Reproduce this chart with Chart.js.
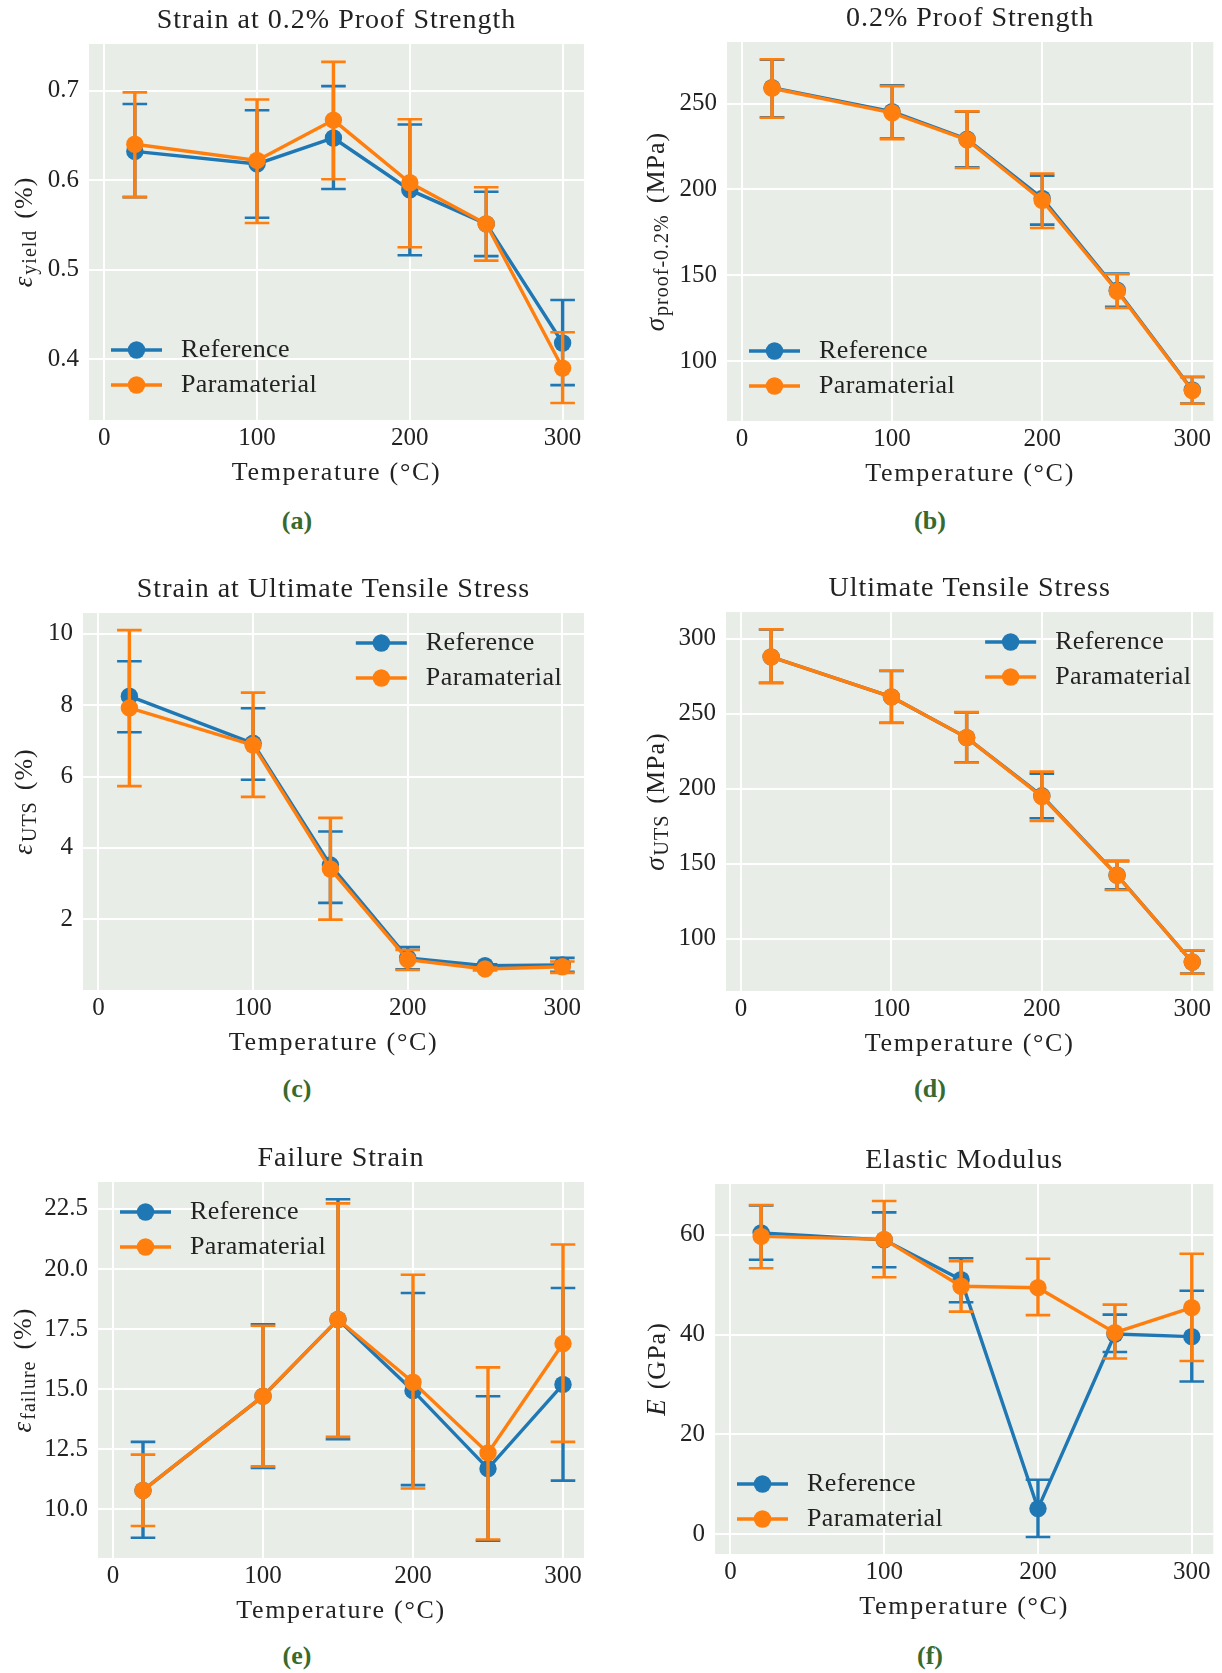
<!DOCTYPE html>
<html>
<head>
  <meta charset="UTF-8" />
  <title>Reference vs Paramaterial</title>
  <script src="https://cdn.jsdelivr.net/npm/chart.js"></script>
  <style>
    body { margin: 0; background: #fff; }
    #page { position: relative; width: 1222px; height: 1673px; overflow: hidden; }
    canvas { position: absolute; }
    .cap {
      position: absolute; width: 80px; margin-left: -40px; text-align: center;
      font: bold 26px "Liberation Serif", serif; color: #386a30; line-height: 28px;
    }
  </style>
</head>
<body>
<div id="page">
  <canvas id="chartA" width="605" height="500" style="left:0;top:0"></canvas>
  <canvas id="chartB" width="611" height="500" style="left:611px;top:0"></canvas>
  <canvas id="chartC" width="605" height="510" style="left:0;top:560px"></canvas>
  <canvas id="chartD" width="611" height="510" style="left:611px;top:560px"></canvas>
  <canvas id="chartE" width="605" height="510" style="left:0;top:1130px"></canvas>
  <canvas id="chartF" width="611" height="510" style="left:611px;top:1130px"></canvas>

  <div class="cap" style="left:297px;top:507px">(a)</div>
  <div class="cap" style="left:930px;top:507px">(b)</div>
  <div class="cap" style="left:297px;top:1075px">(c)</div>
  <div class="cap" style="left:930px;top:1075px">(d)</div>
  <div class="cap" style="left:297px;top:1642px">(e)</div>
  <div class="cap" style="left:930px;top:1642px">(f)</div>
</div>

<script>
// shared x values
const temps = [20, 100, 150, 200, 250, 300];
const tempTicks = [0, 100, 200, 300];
const seriesNames = ['Reference', 'Paramaterial'];

// (a) strain at 0.2% proof strength (%)
const yieldRef   = [0.632, 0.618, 0.647, 0.589, 0.551, 0.418];
const yieldRefLo = [0.581, 0.558, 0.590, 0.516, 0.515, 0.371];
const yieldRefHi = [0.685, 0.678, 0.705, 0.662, 0.587, 0.466];
const yieldPar   = [0.640, 0.622, 0.667, 0.597, 0.551, 0.390];
const yieldParLo = [0.581, 0.552, 0.601, 0.525, 0.510, 0.351];
const yieldParHi = [0.698, 0.690, 0.732, 0.668, 0.592, 0.430];
const yieldTicks = [0.4, 0.5, 0.6, 0.7];

// (b) 0.2% proof strength (MPa)
const proofRef   = [259.2, 245.2, 229.2, 194.8, 141.3, 83.3];
const proofRefLo = [242.0, 229.6, 212.8, 179.5, 131.6, 75.4];
const proofRefHi = [275.5, 260.6, 245.2, 208.0, 151.0, 90.8];
const proofPar   = [258.9, 244.6, 228.8, 193.6, 140.7, 82.9];
const proofParLo = [241.7, 229.2, 212.5, 177.5, 131.0, 75.2];
const proofParHi = [275.8, 260.1, 245.4, 209.3, 150.6, 90.9];
const proofTicks = [100, 150, 200, 250];

// (c) strain at UTS (%)
const utsStrainRef   = [8.25, 6.93, 3.52, 0.92, 0.70, 0.72];
const utsStrainRefLo = [7.24, 5.91, 2.46, 0.60, 0.66, 0.53];
const utsStrainRefHi = [9.23, 7.91, 4.46, 1.22, 0.74, 0.92];
const utsStrainPar   = [7.92, 6.88, 3.41, 0.87, 0.61, 0.67];
const utsStrainParLo = [5.73, 5.43, 1.99, 0.58, 0.57, 0.50];
const utsStrainParHi = [10.10, 8.35, 4.84, 1.14, 0.65, 0.82];
const utsStrainTicks = [2, 4, 6, 8, 10];

// (d) ultimate tensile stress (MPa)
const utsRef   = [287.8, 261.1, 234.0, 195.2, 142.3, 84.4];
const utsRefLo = [270.5, 243.9, 217.6, 180.2, 132.8, 76.8];
const utsRefHi = [306.0, 278.4, 250.8, 209.9, 151.8, 92.0];
const utsPar   = [287.8, 261.1, 234.0, 194.7, 142.1, 84.4];
const utsParLo = [270.3, 243.7, 217.4, 178.4, 132.4, 76.6];
const utsParHi = [306.2, 278.6, 251.0, 211.3, 151.5, 92.2];
const utsTicks = [100, 150, 200, 250, 300];

// (e) failure strain (%)
const failRef   = [10.79, 14.71, 17.90, 14.94, 11.70, 15.20];
const failRefLo = [8.82, 11.73, 12.92, 11.01, 8.70, 11.20];
const failRefHi = [12.81, 17.70, 22.90, 19.00, 14.71, 19.21];
const failPar   = [10.79, 14.71, 17.90, 15.29, 12.35, 16.90];
const failParLo = [9.31, 11.79, 13.02, 10.87, 8.75, 12.81];
const failParHi = [12.28, 17.64, 22.73, 19.76, 15.91, 21.02];
const failTicks = [10, 12.5, 15, 17.5, 20, 22.5];

// (f) elastic modulus (GPa)
const modRef   = [60.4, 59.0, 51.0, 5.1, 40.1, 39.6];
const modRefLo = [55.0, 53.5, 46.5, -0.6, 36.5, 30.6];
const modRefHi = [65.9, 64.5, 55.3, 10.9, 44.0, 48.8];
const modPar   = [59.7, 59.1, 49.7, 49.4, 40.4, 45.4];
const modParLo = [53.3, 51.5, 44.6, 43.9, 35.2, 34.7];
const modParHi = [66.0, 66.8, 54.7, 55.2, 46.0, 56.2];
const modTicks = [0, 20, 40, 60];

const BLUE = '#1f77b4';
const ORANGE = '#ff7f0e';
const PLOT_BG = '#e8ede7';
const INK = '#222222';
const SERIF = '"Liberation Serif", "DejaVu Serif", serif';
const CAP = 12.3;

// background, error bars, titles and the in-axes legend
const decor = {
  id: 'decor',
  beforeDraw(chart) {
    const { ctx, chartArea: a } = chart;
    ctx.save();
    ctx.fillStyle = PLOT_BG;
    ctx.fillRect(a.left, a.top, a.right - a.left, a.bottom - a.top);
    ctx.restore();
  },
  beforeDatasetDraw(chart, args) {
    const ds = chart.data.datasets[args.index];
    const y = chart.scales.y;
    const ctx = chart.ctx;
    ctx.save();
    ctx.strokeStyle = ds.borderColor;
    args.meta.data.forEach((pt, i) => {
      const hi = y.getPixelForValue(ds.errHi[i]);
      const lo = y.getPixelForValue(ds.errLo[i]);
      ctx.lineWidth = 3.4;
      ctx.beginPath();
      ctx.moveTo(pt.x, hi); ctx.lineTo(pt.x, lo);
      ctx.stroke();
      ctx.lineWidth = 2.6;
      ctx.beginPath();
      ctx.moveTo(pt.x - CAP, hi); ctx.lineTo(pt.x + CAP, hi);
      ctx.moveTo(pt.x - CAP, lo); ctx.lineTo(pt.x + CAP, lo);
      ctx.stroke();
    });
    ctx.restore();
  },
  afterDraw(chart, args, opts) {
    const { ctx, chartArea: a } = chart;
    const cx = (a.left + a.right) / 2;
    ctx.save();
    ctx.fillStyle = INK;
    ctx.textAlign = 'center';
    ctx.textBaseline = 'middle';
    ctx.letterSpacing = '1px';
    ctx.font = '28px ' + SERIF;
    ctx.fillText(opts.title, cx, a.top - 23);
    ctx.letterSpacing = '1.7px';
    ctx.font = '26px ' + SERIF;
    ctx.fillText('Temperature (°C)', cx, a.bottom + 53);

    // rotated y label with subscript
    ctx.letterSpacing = '1px';
    const parts = [
      { t: opts.sym, f: 'italic 27px ' + SERIF, dy: 0, gap: 1 },
      { t: opts.sub, f: '20px ' + SERIF, dy: 6, gap: opts.sub ? 11 : 8 },
      { t: opts.unit, f: '26px ' + SERIF, dy: 0, gap: 0 }
    ];
    let total = 0;
    parts.forEach(p => { ctx.font = p.f; p.w = ctx.measureText(p.t).width + p.gap; total += p.w; });
    ctx.translate(a.left + opts.yLabelAt, (a.top + a.bottom) / 2);
    ctx.rotate(-Math.PI / 2);
    ctx.textAlign = 'left';
    let x = -total / 2;
    parts.forEach(p => { ctx.font = p.f; ctx.fillText(p.t, x, p.dy); x += p.w; });
    ctx.restore();

    // legend
    ctx.save();
    ctx.font = '26px ' + SERIF;
    ctx.letterSpacing = '0.4px';
    ctx.textBaseline = 'middle';
    const dsets = chart.data.datasets;
    const textW = Math.max(...dsets.map(d => ctx.measureText(d.label).width));
    let x0, rows;
    if (opts.legend === 'll') { x0 = a.left + 22; rows = [a.bottom - 70, a.bottom - 35]; }
    else if (opts.legend === 'ul') { x0 = a.left + 22; rows = [a.top + 30, a.top + 65]; }
    else { x0 = a.right - 22 - textW - 70; rows = [a.top + 30, a.top + 65]; }
    dsets.forEach((d, i) => {
      const yy = rows[i];
      ctx.strokeStyle = d.borderColor;
      ctx.lineWidth = 3.4;
      ctx.beginPath(); ctx.moveTo(x0, yy); ctx.lineTo(x0 + 51, yy); ctx.stroke();
      ctx.fillStyle = d.borderColor;
      ctx.beginPath(); ctx.arc(x0 + 25.5, yy, 8.7, 0, Math.PI * 2); ctx.fill();
      ctx.fillStyle = INK;
      ctx.fillText(d.label, x0 + 70, yy);
    });
    ctx.restore();
  }
};

function series(label, color, data, lo, hi, order) {
  return {
    label, data, errLo: lo, errHi: hi, order,
    borderColor: color, backgroundColor: color,
    borderWidth: 3.4, tension: 0,
    pointRadius: 8.7, pointBorderWidth: 0, pointBackgroundColor: color
  };
}

function makePanel(id, p) {
  const tickFont = { family: SERIF, size: 25 };
  new Chart(document.getElementById(id), {
    type: 'line',
    data: {
      labels: temps,
      datasets: [
        series(seriesNames[0], BLUE, p.ref, p.refLo, p.refHi, 2),
        series(seriesNames[1], ORANGE, p.par, p.parLo, p.parHi, 1)
      ]
    },
    options: {
      responsive: false,
      animation: false,
      events: [],
      layout: { padding: { left: 0, top: p.top, right: p.right, bottom: 0 } },
      scales: {
        x: {
          type: 'linear', min: -10, max: 314,
          afterBuildTicks: s => { s.ticks = tempTicks.map(v => ({ value: v })); },
          afterFit: s => { s.height = p.xh; },
          grid: { color: '#ffffff', lineWidth: 2, drawTicks: false },
          border: { display: false },
          ticks: { font: tickFont, color: INK, padding: 3, maxRotation: 0 }
        },
        y: {
          min: p.yMin, max: p.yMax,
          afterBuildTicks: s => { s.ticks = p.yTicks.map(v => ({ value: v })); },
          afterFit: s => { s.width = p.left; },
          grid: { color: '#ffffff', lineWidth: 2, drawTicks: false },
          border: { display: false },
          ticks: { font: tickFont, color: INK, padding: 10, callback: v => v.toFixed(p.dec) }
        }
      },
      plugins: {
        legend: { display: false },
        tooltip: { enabled: false },
        decor: p.decor
      }
    },
    plugins: [decor]
  });
}

makePanel('chartA', {
  ref: yieldRef, refLo: yieldRefLo, refHi: yieldRefHi,
  par: yieldPar, parLo: yieldParLo, parHi: yieldParHi,
  yMin: 0.332, yMax: 0.752, yTicks: yieldTicks, dec: 1,
  left: 89, right: 21, top: 44, xh: 80,
  decor: { title: 'Strain at 0.2% Proof Strength', sym: 'ε', sub: 'yield', unit: '(%)', yLabelAt: -64, legend: 'll' }
});

makePanel('chartB', {
  ref: proofRef, refLo: proofRefLo, refHi: proofRefHi,
  par: proofPar, parLo: proofParLo, parHi: proofParHi,
  yMin: 65.2, yMax: 285.8, yTicks: proofTicks, dec: 0,
  left: 116, right: 5, top: 42, xh: 79,
  decor: { title: '0.2% Proof Strength', sym: 'σ', sub: 'proof-0.2%', unit: '(MPa)', yLabelAt: -70, legend: 'll' }
});

makePanel('chartC', {
  ref: utsStrainRef, refLo: utsStrainRefLo, refHi: utsStrainRefHi,
  par: utsStrainPar, parLo: utsStrainParLo, parHi: utsStrainParHi,
  yMin: 0.02, yMax: 10.58, yTicks: utsStrainTicks, dec: 0,
  left: 83, right: 21, top: 53, xh: 80,
  decor: { title: 'Strain at Ultimate Tensile Stress', sym: 'ε', sub: 'UTS', unit: '(%)', yLabelAt: -58, legend: 'ur' }
});

makePanel('chartD', {
  ref: utsRef, refLo: utsRefLo, refHi: utsRefHi,
  par: utsPar, parLo: utsParLo, parHi: utsParHi,
  yMin: 65.1, yMax: 317.7, yTicks: utsTicks, dec: 0,
  left: 115, right: 5, top: 52, xh: 79,
  decor: { title: 'Ultimate Tensile Stress', sym: 'σ', sub: 'UTS', unit: '(MPa)', yLabelAt: -69, legend: 'ur' }
});

makePanel('chartE', {
  ref: failRef, refLo: failRefLo, refHi: failRefHi,
  par: failPar, parLo: failParLo, parHi: failParHi,
  yMin: 7.98, yMax: 23.62, yTicks: failTicks, dec: 1,
  left: 98, right: 21, top: 52, xh: 82,
  decor: { title: 'Failure Strain', sym: 'ε', sub: 'failure', unit: '(%)', yLabelAt: -74, legend: 'ul' }
});

makePanel('chartF', {
  ref: modRef, refLo: modRefLo, refHi: modRefHi,
  par: modPar, parLo: modParLo, parHi: modParHi,
  yMin: -4.0, yMax: 70.2, yTicks: modTicks, dec: 0,
  left: 104, right: 5, top: 54, xh: 86,
  decor: { title: 'Elastic Modulus', sym: 'E', sub: '', unit: '(GPa)', yLabelAt: -57, legend: 'll' }
});
</script>
</body>
</html>
